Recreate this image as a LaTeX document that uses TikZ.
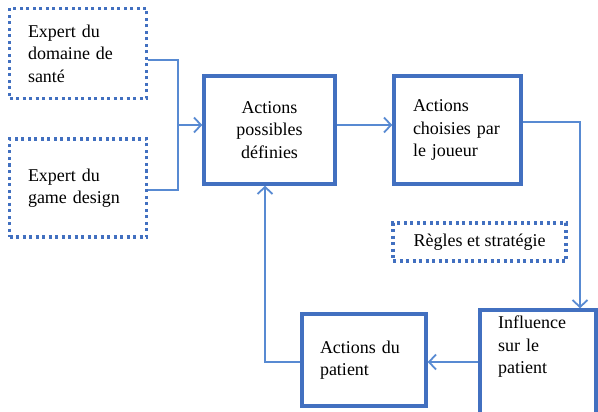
\documentclass[tikz,border=0pt]{standalone}
\usepackage{fontspec}
\setmainfont{Liberation Serif}
\usetikzlibrary{arrows.meta}
\definecolor{boxblue}{RGB}{66,112,192}
\definecolor{lineblue}{RGB}{88,138,210}
\begin{document}
\begin{tikzpicture}[x=1pt,y=1pt,
  every node/.style={font=\fontsize{18}{22.5}\selectfont, text=black},
  solidbox/.style={draw=boxblue, line width=3.5pt, inner sep=0pt},
  dotbox/.style={draw=boxblue, line width=3.2pt, dash pattern=on 3pt off 3.5pt, inner sep=0pt},
  conn/.style={draw=lineblue, line width=1.8pt},
  arr/.style={conn, -{Straight Barb[length=7pt,width=15pt,line width=1.8pt]}}]
\useasboundingbox (0,0) rectangle (598,-412);
\node[dotbox, minimum width=137pt, minimum height=90pt, text width=100pt, align=left] (exp1) at (78,-53.5) {Expert du\\domaine de\\santé};
\node[dotbox, minimum width=137pt, minimum height=98pt, text width=100pt, align=left] (exp2) at (78,-188) {Expert du\\game design};
\node[solidbox, minimum width=131pt, minimum height=108pt, text width=100pt, align=center] (poss) at (269.5,-130) {Actions\\possibles\\définies};
\node[solidbox, minimum width=127pt, minimum height=108pt, text width=89pt, align=left] (chois) at (457.5,-130) {Actions\\choisies par\\le joueur};
\node[dotbox, minimum width=173pt, minimum height=38pt] (regles) at (479.5,-242) {Règles et stratégie};
\node[solidbox, minimum width=116pt, minimum height=104pt] (infl) at (538,-362) {};
\node[anchor=north west, text width=90pt, align=left, inner sep=0pt] (infltxt) at (498,-316) {Influence\\sur le\\patient};
\node[solidbox, minimum width=124pt, minimum height=92pt, text width=88pt, align=left] (pat) at (364,-360) {Actions du\\patient};
% connectors
\coordinate (j) at (178,-125);
\draw[conn] (exp1.east |- 0,-60) -| (j);
\draw[conn] (exp2.east |- 0,-190) -| (j);
\draw[arr] (j) -- (poss.west |- j);
\draw[arr] (poss.east |- 0,-125) -- (chois.west |- 0,-125);
\coordinate (c1) at (580,-122);
\draw[arr] (chois.east |- c1) -- (c1) -- (c1 |- infl.north);
\draw[arr] (infl.west |- 0,-362) -- (pat.east |- 0,-362);
\coordinate (c2) at (265,-362);
\draw[arr] (pat.west |- c2) -- (c2) -- (c2 |- poss.south);
\end{tikzpicture}
\end{document}
